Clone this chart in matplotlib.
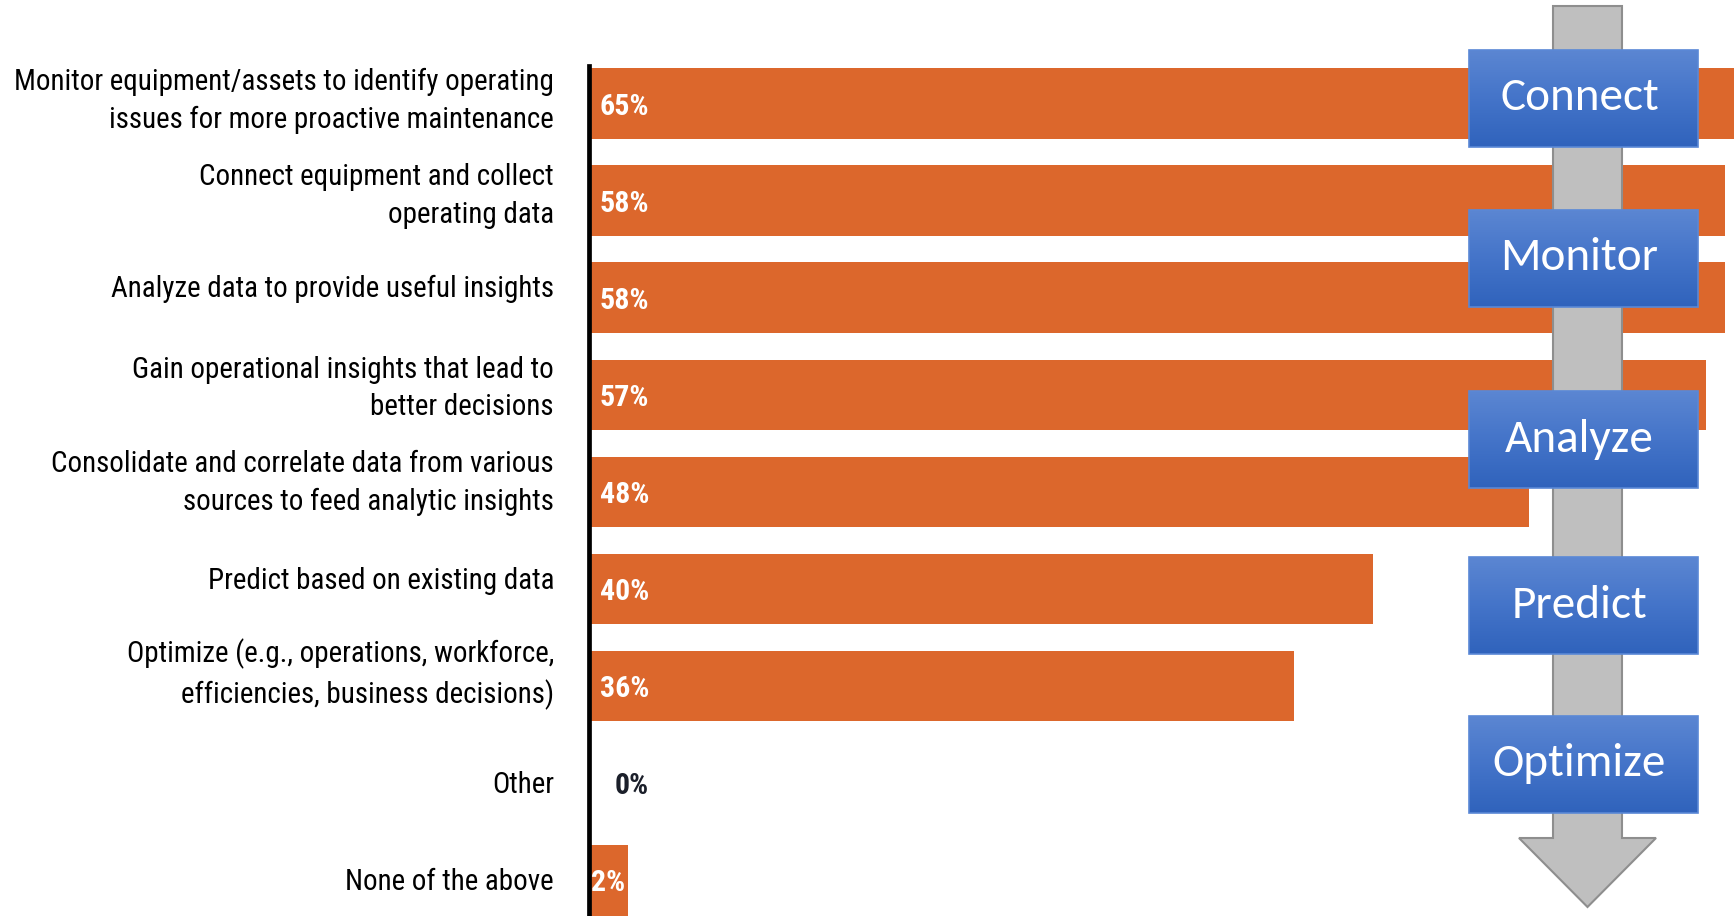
import matplotlib
matplotlib.use("Agg")
import matplotlib.pyplot as plt
import numpy as np
from matplotlib.patches import Rectangle, Polygon
from matplotlib.colors import LinearSegmentedColormap

# Survey responses: what companies want from IoT / connected equipment
categories = [
    "Monitor equipment/assets to identify operating\nissues for more proactive maintenance",
    "Connect equipment and collect\noperating data",
    "Analyze data to provide useful insights",
    "Gain operational insights that lead to\nbetter decisions",
    "Consolidate and correlate data from various\nsources to feed analytic insights",
    "Predict based on existing data",
    "Optimize (e.g., operations, workforce,\nefficiencies, business decisions)",
    "Other",
    "None of the above",
]
values = [65, 58, 58, 57, 48, 40, 36, 0, 2]
value_labels = ["65%", "58%", "58%", "57%", "48%", "40%", "36%", "0%", "2%"]

# Maturity steps shown on the downward arrow
stages = ["Connect", "Monitor", "Analyze", "Predict", "Optimize"]

W, H = 1734, 916
DPI = 100
BAR_COLOR = "#DC672C"
NARROW = ["Roboto Condensed", "Archivo Narrow", "DejaVu Sans"]
BOXFONT = ["Carlito", "Lato", "DejaVu Sans"]

# small vertical nudges for the category labels
label_nudge = [-0.03, -0.05, -0.09, -0.07, -0.09, -0.08, -0.12, 0.02, 0.02]

fig = plt.figure(figsize=(W / DPI, H / DPI), dpi=DPI)
fig.patch.set_facecolor("white")

# ---- bar chart -------------------------------------------------------------
ax_left_px = 589
px_per_pct = 19.59
ax = fig.add_axes([ax_left_px / W, 0, 1 - ax_left_px / W, 1 - 66 / H])
ypos = np.arange(len(values))
ax.barh(ypos, values, height=0.73, color=BAR_COLOR, zorder=2)
ax.set_xlim(0, (W - ax_left_px) / px_per_pct)
ax.set_ylim(8.37, -0.39)
ax.set_xticks([])
ax.set_yticks([])
for s in ["top", "right", "bottom"]:
    ax.spines[s].set_visible(False)
ax.spines["left"].set_linewidth(3.4)
ax.spines["left"].set_color("black")
ax.spines["left"].set_zorder(3)

for y, v, lab in zip(ypos, values, value_labels):
    if v == 0:
        x, col = 1.3, "#1b1f2a"
    elif v < 5:
        x, col = 0.08, "white"
    else:
        x, col = 0.56, "white"
    ax.text(x, y, lab, color=col, fontsize=21.5, fontweight="bold",
            family=NARROW, ha="left", va="center_baseline", zorder=4)

# category labels to the left of the axis
for y, cat, nudge in zip(ypos, categories, label_nudge):
    ax.text(-(ax_left_px - 554) / px_per_pct, y + nudge, cat, ha="right", va="center",
            fontsize=20.9, family=NARROW, color="black", linespacing=1.42,
            clip_on=False)

# ---- arrow with stage boxes (pixel coordinates) -----------------------------
ov = fig.add_axes([0, 0, 1, 1], zorder=5)
ov.axis("off")
ov.patch.set_alpha(0)

shaft_l, shaft_r = 1553, 1622
head_l, head_r = 1519, 1656
arrow = Polygon([(shaft_l, 6), (shaft_r, 6), (shaft_r, 838), (head_r, 838),
                 (1587.5, 907), (head_l, 838), (shaft_l, 838)],
                closed=True, facecolor="#BFBFBF", edgecolor="#8E8E8E", lw=1.5, zorder=1)
ov.add_patch(arrow)

box_x0, box_x1 = 1469, 1698
box_tops = [50, 210, 391, 557, 716]
box_h = 97
grad_cmap = LinearSegmentedColormap.from_list("boxgrad", ["#5B86D2", "#4474C9", "#3063BC"])
grad = np.linspace(0, 1, 64).reshape(-1, 1)
for top, name in zip(box_tops, stages):
    ov.imshow(grad, cmap=grad_cmap, aspect="auto",
              extent=(box_x0, box_x1, top + box_h, top), zorder=2, interpolation="bilinear")
    ov.add_patch(Rectangle((box_x0, top), box_x1 - box_x0, box_h, fill=False,
                           edgecolor="#5A88D6", lw=1.2, zorder=3))
    ov.text((box_x0 + box_x1) / 2 - 4, top + box_h / 2 + 12, name, color="white",
            fontsize=34, family=BOXFONT, ha="center", va="baseline", zorder=4)
ov.set_xlim(0, W)
ov.set_ylim(H, 0)

fig.savefig("out.png", dpi=DPI, facecolor="white")
